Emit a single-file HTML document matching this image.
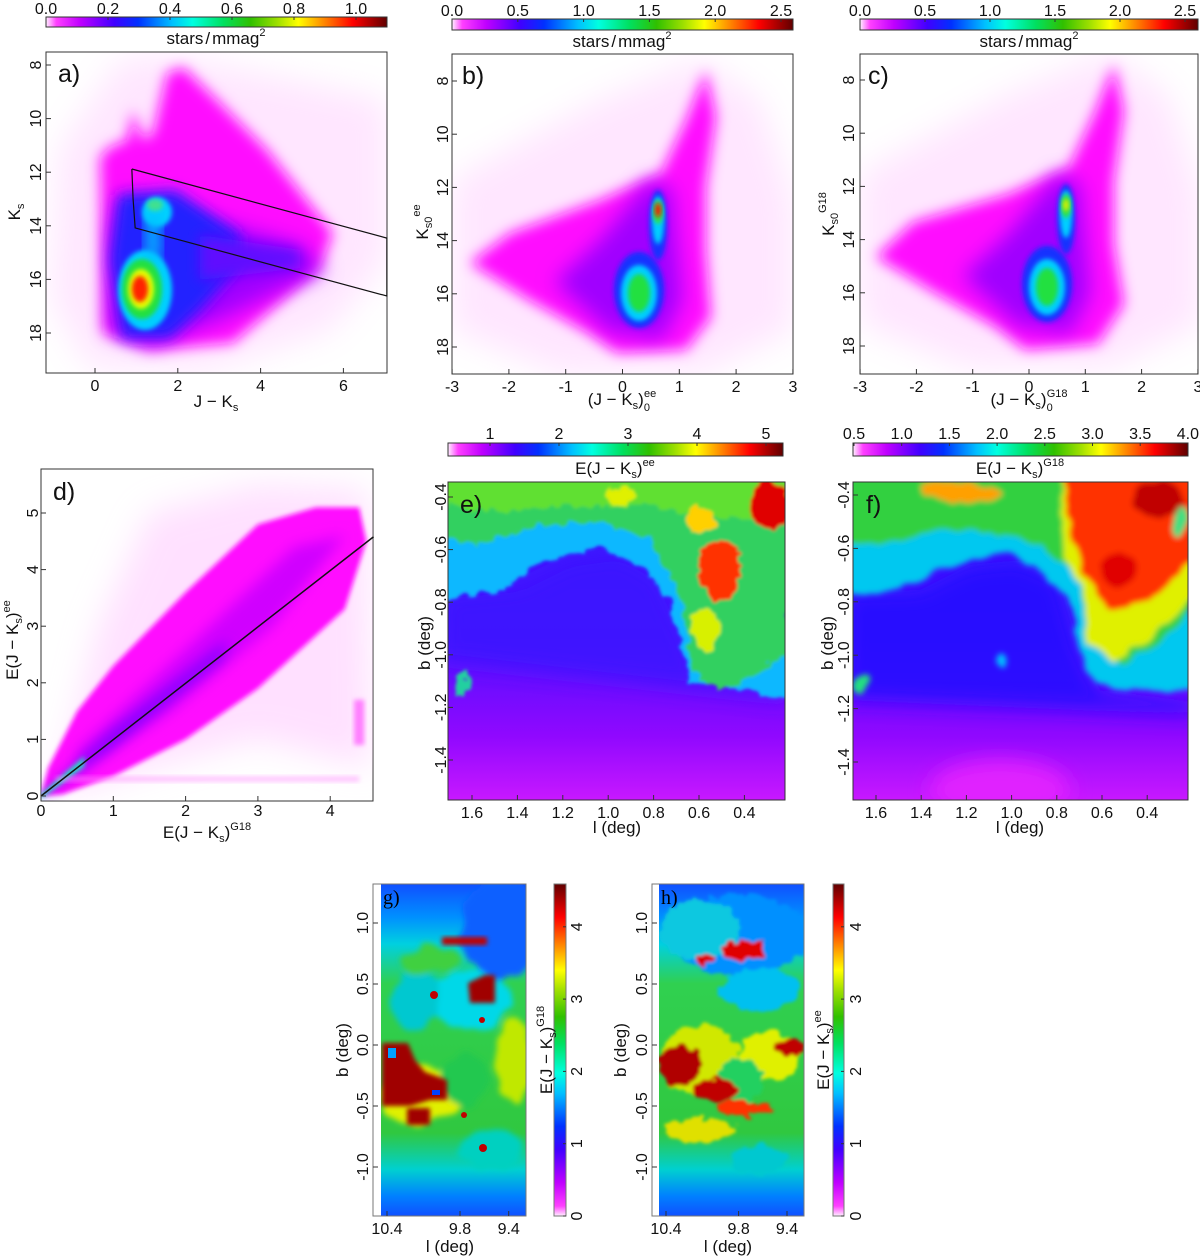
<!DOCTYPE html>
<html><head><meta charset="utf-8"><title>Extinction CMD figure</title>
<style>
html,body{margin:0;padding:0;background:#fff;}
svg{display:block;font-family:"Liberation Sans",sans-serif;}
.tk{font-size:16px;fill:#111;}
.tt{font-size:17px;fill:#111;}
.pl{font-size:25px;fill:#111;}
.sub{font-size:11px;}
</style></head>
<body>
<svg id="fig" width="1200" height="1257" viewBox="0 0 1200 1257" xmlns="http://www.w3.org/2000/svg">
<defs>
<linearGradient id="cmapH" x1="0" y1="0" x2="1" y2="0">
<stop offset="0" stop-color="#fff0ff"/><stop offset="0.03" stop-color="#ff40ff"/><stop offset="0.1" stop-color="#c000ff"/><stop offset="0.2" stop-color="#4000ff"/><stop offset="0.27" stop-color="#0030ff"/><stop offset="0.37" stop-color="#00c0ff"/><stop offset="0.43" stop-color="#00ffe0"/><stop offset="0.52" stop-color="#00e060"/><stop offset="0.6" stop-color="#30c000"/><stop offset="0.68" stop-color="#a0e000"/><stop offset="0.74" stop-color="#ffff00"/><stop offset="0.82" stop-color="#ff8000"/><stop offset="0.9" stop-color="#ff0000"/><stop offset="1" stop-color="#600000"/>
</linearGradient>
<linearGradient id="cmapV" x1="0" y1="1" x2="0" y2="0">
<stop offset="0" stop-color="#fff0ff"/><stop offset="0.03" stop-color="#ff40ff"/><stop offset="0.1" stop-color="#c000ff"/><stop offset="0.2" stop-color="#4000ff"/><stop offset="0.27" stop-color="#0030ff"/><stop offset="0.37" stop-color="#00c0ff"/><stop offset="0.43" stop-color="#00ffe0"/><stop offset="0.52" stop-color="#00e060"/><stop offset="0.6" stop-color="#30c000"/><stop offset="0.68" stop-color="#a0e000"/><stop offset="0.74" stop-color="#ffff00"/><stop offset="0.82" stop-color="#ff8000"/><stop offset="0.9" stop-color="#ff0000"/><stop offset="1" stop-color="#600000"/>
</linearGradient>
<linearGradient id="eBase" x1="0" y1="0" x2="0" y2="1">
<stop offset="0" stop-color="#3018ff"/><stop offset="0.5" stop-color="#5010ff"/><stop offset="0.8" stop-color="#9008ff"/><stop offset="1" stop-color="#c818ff"/>
</linearGradient>
<linearGradient id="gBase" x1="0" y1="0" x2="0" y2="1">
<stop offset="0" stop-color="#1050ff"/><stop offset="0.1" stop-color="#0090ff"/><stop offset="0.18" stop-color="#00d0e0"/><stop offset="0.3" stop-color="#30d050"/><stop offset="0.75" stop-color="#30c840"/><stop offset="0.86" stop-color="#00d0d0"/><stop offset="0.94" stop-color="#0080ff"/><stop offset="1" stop-color="#1050ff"/>
</linearGradient>
<filter id="b2" x="-30%" y="-30%" width="160%" height="160%"><feGaussianBlur stdDeviation="2.5"/></filter>
<filter id="b4" x="-30%" y="-30%" width="160%" height="160%"><feGaussianBlur stdDeviation="7"/></filter>
<filter id="b8" x="-30%" y="-30%" width="160%" height="160%"><feGaussianBlur stdDeviation="10"/></filter>
<filter id="b14" x="-40%" y="-40%" width="180%" height="180%"><feGaussianBlur stdDeviation="16"/></filter>
<filter id="rough" x="-10%" y="-10%" width="120%" height="120%"><feTurbulence type="fractalNoise" baseFrequency="0.09" numOctaves="2" seed="3"/><feDisplacementMap in="SourceGraphic" scale="14" xChannelSelector="R" yChannelSelector="G"/><feGaussianBlur stdDeviation="1.5"/></filter>
<filter id="blocky" x="-10%" y="-10%" width="120%" height="120%"><feTurbulence type="fractalNoise" baseFrequency="0.04" numOctaves="2" seed="7"/><feDisplacementMap in="SourceGraphic" scale="16" xChannelSelector="R" yChannelSelector="G"/><feGaussianBlur stdDeviation="3"/></filter>
<clipPath id="cA"><rect x="46" y="52" width="341" height="321"/></clipPath>
<clipPath id="cB"><rect x="452" y="54" width="341" height="320"/></clipPath>
<clipPath id="cC"><rect x="860" y="54" width="338" height="320"/></clipPath>
<clipPath id="cD"><rect x="41" y="469" width="332" height="332"/></clipPath>
<clipPath id="cE"><rect x="448" y="482" width="337" height="318"/></clipPath>
<clipPath id="cF"><rect x="853" y="482" width="335" height="318"/></clipPath>
<clipPath id="cG"><rect x="381" y="884" width="145" height="332"/></clipPath>
<clipPath id="cH"><rect x="659" y="884" width="145" height="332"/></clipPath>
</defs>

<!-- Panel a density -->
<g clip-path="url(#cA)">
<polygon points="60,150 120,60 170,55 387,100 387,260 330,330 200,372 90,368 52,300" fill="#ffc8ff" opacity="0.45" filter="url(#b14)"/>
<polygon points="133,110 143,140 153,133 167,73 183,67 217,100 267,150 333,233 320,267 233,343 150,350 103,333 100,157 110,147 127,140" fill="#ff10ff" filter="url(#b4)"/>
<polygon points="125,195 300,245 325,270 220,320 150,345 110,330 112,230" fill="#a000ff" filter="url(#b8)"/>
<polygon points="118,195 175,190 240,235 240,265 200,310 170,338 122,338 110,260" fill="#2020ff" filter="url(#b4)"/>
<polygon points="200,235 300,250 300,268 200,280" fill="#6010ff" filter="url(#b4)"/>
<ellipse cx="145" cy="290" rx="27" ry="40" fill="#00d0ff" filter="url(#b2)"/>
<ellipse cx="157" cy="212" rx="15" ry="15" fill="#00d0ff" filter="url(#b2)"/>
<rect x="146" y="215" width="14" height="45" fill="#00c0ff" filter="url(#b4)"/>
<ellipse cx="142" cy="289" rx="20" ry="30" fill="#20e040" filter="url(#b2)"/>
<ellipse cx="155" cy="205" rx="8" ry="6" fill="#40e090" filter="url(#b2)"/>
<ellipse cx="141" cy="289" rx="13" ry="20" fill="#e8ff00" filter="url(#b2)"/>
<ellipse cx="140" cy="289" rx="8" ry="13" fill="#ff2000" filter="url(#b2)"/>
</g>

<!-- Panel b density -->
<g clip-path="url(#cB)">
<polygon points="452,180 600,100 700,60 760,100 793,200 793,330 700,374 560,374 452,330" fill="#ffc8ff" opacity="0.45" filter="url(#b14)"/>
<polygon points="706,70 716,117 706,187 706,250 711,317 686,350 617,353 588,333 529,300 470,263 510,233 600,200 661,173 686,120" fill="#ff10ff" filter="url(#b4)"/>
<polygon points="650,180 672,190 682,300 662,340 610,332 555,282 600,240" fill="#a000ff" filter="url(#b8)"/>
<ellipse cx="639" cy="290" rx="25" ry="38" fill="#1530ff" filter="url(#b2)"/>
<ellipse cx="658" cy="225" rx="9" ry="35" fill="#1530ff" filter="url(#b2)"/>
<ellipse cx="639" cy="293" rx="18" ry="28" fill="#00d0ff" filter="url(#b2)"/>
<ellipse cx="658" cy="220" rx="6" ry="24" fill="#00d0ff" filter="url(#b2)"/>
<ellipse cx="639" cy="293" rx="11" ry="19" fill="#20e040" filter="url(#b2)"/>
<ellipse cx="658" cy="212" rx="5" ry="12" fill="#30e040" filter="url(#b2)"/>
<ellipse cx="658" cy="210" rx="3" ry="7" fill="#ff1000" filter="url(#b2)"/>
</g>

<!-- Panel c density -->
<g clip-path="url(#cC)">
<g transform="translate(408,-6)">
<polygon points="452,180 600,100 700,60 760,100 793,200 793,330 700,374 560,374 452,330" fill="#ffc8ff" opacity="0.45" filter="url(#b14)"/>
<polygon points="706,70 716,117 706,187 706,250 716,310 690,350 617,356 588,333 529,300 468,263 505,228 600,200 661,173 686,120" fill="#ff10ff" filter="url(#b4)"/>
<polygon points="650,180 672,190 682,300 662,340 610,332 555,282 600,240" fill="#a000ff" filter="url(#b8)"/>
<ellipse cx="639" cy="290" rx="25" ry="38" fill="#1530ff" filter="url(#b2)"/>
<ellipse cx="658" cy="225" rx="9" ry="35" fill="#1530ff" filter="url(#b2)"/>
<ellipse cx="639" cy="293" rx="18" ry="28" fill="#00d0ff" filter="url(#b2)"/>
<ellipse cx="658" cy="220" rx="6" ry="24" fill="#00d0ff" filter="url(#b2)"/>
<ellipse cx="639" cy="293" rx="11" ry="19" fill="#20e040" filter="url(#b2)"/>
<ellipse cx="658" cy="212" rx="5" ry="12" fill="#30e040" filter="url(#b2)"/>
<ellipse cx="658" cy="211" rx="3" ry="6" fill="#e0f000" filter="url(#b2)"/>
</g>
</g>

<!-- Panel e map -->
<g clip-path="url(#cE)">
<rect x="448" y="482" width="337" height="318" fill="url(#eBase)"/>
<polygon points="440,592 520,585 570,560 620,553 660,575 690,640 700,670 790,690 790,700 440,660" fill="#3a14ff" opacity="0.8" filter="url(#b8)"/>
<g filter="url(#rough)">
<polygon points="440,470 790,470 790,700 740,690 690,680 670,600 640,565 600,548 540,560 500,592 440,600" fill="#10b8ff"/>
<polygon points="440,470 790,470 790,650 760,672 720,690 692,672 682,600 650,540 600,522 540,525 480,545 440,535" fill="#30d060"/>
<polygon points="440,470 790,470 790,520 700,515 640,505 560,505 500,512 440,505" fill="#60e030"/>
<ellipse cx="720" cy="570" rx="22" ry="30" fill="#ff3000"/>
<ellipse cx="770" cy="505" rx="20" ry="26" fill="#e00000"/>
<ellipse cx="700" cy="520" rx="14" ry="14" fill="#ffd000"/>
<ellipse cx="620" cy="495" rx="16" ry="8" fill="#e0f000"/>
<ellipse cx="705" cy="630" rx="14" ry="22" fill="#d8f000"/>
<ellipse cx="462" cy="685" rx="7" ry="12" fill="#20d0a0"/>
</g>
</g>

<!-- Panel f map -->
<g clip-path="url(#cF)">
<rect x="853" y="482" width="335" height="318" fill="url(#eBase)"/>
<ellipse cx="1000" cy="790" rx="70" ry="30" fill="#e020ff" filter="url(#b8)"/>
<polygon points="845,592 920,590 970,565 1020,560 1060,580 1080,650 1100,690 1195,700 1195,715 845,700" fill="#2010ff" opacity="0.85" filter="url(#b8)"/>
<g filter="url(#blocky)">
<polygon points="845,470 1195,470 1195,690 1140,690 1090,680 1070,600 1040,568 1000,555 940,570 900,590 845,595" fill="#00c8f0"/>
<polygon points="845,470 1195,470 1195,610 1150,650 1120,665 1090,640 1075,575 1040,545 990,530 930,535 880,545 845,540" fill="#30d040"/>
<polygon points="845,470 1195,470 1195,600 1150,640 1110,660 1090,640 1080,590 1065,560 1060,470" fill="#e0f000"/>
<polygon points="1060,470 1195,470 1195,560 1150,600 1110,610 1085,580 1070,520" fill="#ff3000"/>
<ellipse cx="1160" cy="500" rx="25" ry="18" fill="#c00000"/>
<ellipse cx="1120" cy="570" rx="18" ry="16" fill="#e00000"/>
<ellipse cx="960" cy="492" rx="40" ry="10" fill="#ffa000"/>
<ellipse cx="1180" cy="520" rx="8" ry="14" fill="#40e080"/>
<ellipse cx="863" cy="683" rx="7" ry="12" fill="#20e080"/>
<ellipse cx="1002" cy="660" rx="6" ry="7" fill="#00c0ff"/>
</g>
</g>

<!-- Panel g map -->
<rect x="373" y="884" width="153" height="332" fill="#fff"/>
<g clip-path="url(#cG)">
<rect x="381" y="884" width="145" height="332" fill="url(#gBase)"/>
<g filter="url(#blocky)">
<ellipse cx="500" cy="930" rx="40" ry="50" fill="#1060ff"/>
<ellipse cx="470" cy="1000" rx="40" ry="30" fill="#00d8e8"/>
<ellipse cx="415" cy="1000" rx="25" ry="30" fill="#00c8d0"/>
<ellipse cx="430" cy="960" rx="30" ry="14" fill="#40d040"/>
<ellipse cx="420" cy="1095" rx="38" ry="30" fill="#e0f000"/>
<ellipse cx="515" cy="1060" rx="20" ry="40" fill="#c0e800"/>
<ellipse cx="465" cy="1080" rx="25" ry="25" fill="#20c850"/>
<ellipse cx="490" cy="1150" rx="30" ry="20" fill="#00d0c0"/>
</g>
<polygon points="382,1043 408,1043 415,1060 425,1072 447,1080 447,1100 430,1100 410,1106 382,1106" fill="#a00000" filter="url(#b2)"/>
<polygon points="468,983 485,975 495,975 495,1003 470,1003" fill="#a00000" filter="url(#b2)"/>
<rect x="407" y="1108" width="23" height="17" fill="#a00000" filter="url(#b2)"/>
<rect x="442" y="937" width="45" height="8" fill="#c00000" filter="url(#b2)"/>
<rect x="388" y="1048" width="8" height="10" fill="#00a0ff"/>
<rect x="432" y="1090" width="8" height="5" fill="#0040ff"/>
<circle cx="434" cy="995" r="4" fill="#c00000"/>
<circle cx="482" cy="1020" r="3" fill="#c00000"/>
<circle cx="483" cy="1148" r="4" fill="#c00000"/>
<circle cx="464" cy="1115" r="3" fill="#c00000"/>
</g>

<!-- Panel h map -->
<rect x="652" y="884" width="152" height="332" fill="#fff"/>
<g clip-path="url(#cH)">
<rect x="659" y="884" width="145" height="332" fill="url(#gBase)"/>
<g filter="url(#rough)">
<ellipse cx="740" cy="935" rx="70" ry="40" fill="#0090ff"/>
<ellipse cx="700" cy="930" rx="40" ry="30" fill="#10c8e0"/>
<ellipse cx="760" cy="990" rx="40" ry="22" fill="#00c0f0"/>
<ellipse cx="700" cy="1060" rx="40" ry="35" fill="#d0e800"/>
<ellipse cx="770" cy="1055" rx="30" ry="25" fill="#e0f000"/>
<ellipse cx="740" cy="1080" rx="25" ry="20" fill="#20d060"/>
<ellipse cx="745" cy="951" rx="22" ry="10" fill="#e00000"/>
<ellipse cx="706" cy="960" rx="8" ry="6" fill="#e00000"/>
<ellipse cx="680" cy="1065" rx="22" ry="20" fill="#b00000"/>
<ellipse cx="715" cy="1090" rx="22" ry="12" fill="#c00000"/>
<ellipse cx="790" cy="1047" rx="14" ry="10" fill="#c00000"/>
<ellipse cx="745" cy="1108" rx="30" ry="8" fill="#ff3000"/>
<ellipse cx="700" cy="1130" rx="35" ry="12" fill="#e0e000"/>
<ellipse cx="760" cy="1160" rx="30" ry="15" fill="#00c8d0"/>
</g>
</g>

<!-- Colorbars -->
<rect x="46" y="17" width="341" height="10" fill="url(#cmapH)" stroke="#333" stroke-width="1"/>
<rect x="452" y="19" width="341" height="11" fill="url(#cmapH)" stroke="#333" stroke-width="1"/>
<rect x="860" y="19" width="338" height="11" fill="url(#cmapH)" stroke="#333" stroke-width="1"/>
<rect x="448" y="443" width="335" height="13" fill="url(#cmapH)" stroke="#333" stroke-width="1"/>
<rect x="853" y="443" width="335" height="13" fill="url(#cmapH)" stroke="#333" stroke-width="1"/>
<rect x="554" y="884" width="12" height="332" fill="url(#cmapV)" stroke="#777" stroke-width="1"/>
<rect x="833" y="884" width="11" height="332" fill="url(#cmapV)" stroke="#777" stroke-width="1"/>

<!-- Frames -->
<rect x="46" y="52" width="341" height="321" fill="none" stroke="#333"/>
<rect x="452" y="54" width="341" height="320" fill="none" stroke="#333"/>
<rect x="860" y="54" width="338" height="320" fill="none" stroke="#333"/>
<rect x="41" y="469" width="332" height="332" fill="none" stroke="#333"/>
<rect x="448" y="482" width="337" height="318" fill="none" stroke="#333"/>
<rect x="853" y="482" width="335" height="318" fill="none" stroke="#333"/>
<rect x="373" y="884" width="153" height="332" fill="none" stroke="#777"/>
<rect x="652" y="884" width="152" height="332" fill="none" stroke="#777"/>

<!-- Panel letters -->
<text class="pl" x="58" y="82">a)</text>
<text class="pl" x="462" y="84">b)</text>
<text class="pl" x="868" y="84">c)</text>
<text class="pl" x="53" y="500">d)</text>
<text class="pl" x="460" y="513">e)</text>
<text class="pl" x="866" y="513">f)</text>
<text x="383" y="904" style="font-family:'Liberation Serif',serif;font-size:20px">g)</text>
<text x="661" y="904" style="font-family:'Liberation Serif',serif;font-size:20px">h)</text>

<!-- Colorbar titles -->
<text class="tt" x="216" y="44" text-anchor="middle">stars<tspan dx="2">/</tspan><tspan dx="2">mmag</tspan><tspan class="sub" dy="-8">2</tspan></text>
<text class="tt" x="622" y="47" text-anchor="middle">stars<tspan dx="2">/</tspan><tspan dx="2">mmag</tspan><tspan class="sub" dy="-8">2</tspan></text>
<text class="tt" x="1029" y="47" text-anchor="middle">stars<tspan dx="2">/</tspan><tspan dx="2">mmag</tspan><tspan class="sub" dy="-8">2</tspan></text>
<text class="tt" x="615" y="474" text-anchor="middle">E(J − K<tspan class="sub" dy="4">s</tspan><tspan dy="-4">)</tspan><tspan class="sub" dy="-8">ee</tspan></text>
<text class="tt" x="1020" y="474" text-anchor="middle">E(J − K<tspan class="sub" dy="4">s</tspan><tspan dy="-4">)</tspan><tspan class="sub" dy="-8">G18</tspan></text>
<text class="tt" transform="translate(552,1050) rotate(-90)" text-anchor="middle">E(J − K<tspan class="sub" dy="4">s</tspan><tspan dy="-4">)</tspan><tspan class="sub" dy="-8">G18</tspan></text>
<text class="tt" transform="translate(829,1050) rotate(-90)" text-anchor="middle">E(J − K<tspan class="sub" dy="4">s</tspan><tspan dy="-4">)</tspan><tspan class="sub" dy="-8">ee</tspan></text>

<!-- Axis titles -->
<text class="tt" x="216" y="407" text-anchor="middle">J − K<tspan class="sub" dy="4">s</tspan></text>
<text class="tt" transform="translate(20,212) rotate(-90)" text-anchor="middle">K<tspan class="sub" dy="4">s</tspan></text>
<text class="tt" x="622" y="405" text-anchor="middle">(J − K<tspan class="sub" dy="4">s</tspan><tspan dy="-4">)</tspan><tspan class="sub" dy="6">0</tspan><tspan class="sub" dx="-6" dy="-14">ee</tspan></text>
<text class="tt" transform="translate(428,222) rotate(-90)" text-anchor="middle">K<tspan class="sub" dy="4">s0</tspan><tspan class="sub" dy="-12">ee</tspan></text>
<text class="tt" x="1029" y="405" text-anchor="middle">(J − K<tspan class="sub" dy="4">s</tspan><tspan dy="-4">)</tspan><tspan class="sub" dy="6">0</tspan><tspan class="sub" dx="-6" dy="-14">G18</tspan></text>
<text class="tt" transform="translate(834,214) rotate(-90)" text-anchor="middle">K<tspan class="sub" dy="4">s0</tspan><tspan class="sub" dy="-12">G18</tspan></text>
<text class="tt" x="207" y="838" text-anchor="middle">E(J − K<tspan class="sub" dy="4">s</tspan><tspan dy="-4">)</tspan><tspan class="sub" dy="-8">G18</tspan></text>
<text class="tt" transform="translate(18,640) rotate(-90)" text-anchor="middle">E(J − K<tspan class="sub" dy="4">s</tspan><tspan dy="-4">)</tspan><tspan class="sub" dy="-8">ee</tspan></text>
<text class="tt" x="617" y="833" text-anchor="middle">l (deg)</text>
<text class="tt" transform="translate(430,643) rotate(-90)" text-anchor="middle">b (deg)</text>
<text class="tt" x="1020" y="833" text-anchor="middle">l (deg)</text>
<text class="tt" transform="translate(833,643) rotate(-90)" text-anchor="middle">b (deg)</text>
<text class="tt" x="450" y="1252" text-anchor="middle">l (deg)</text>
<text class="tt" transform="translate(348,1050) rotate(-90)" text-anchor="middle">b (deg)</text>
<text class="tt" x="728" y="1252" text-anchor="middle">l (deg)</text>
<text class="tt" transform="translate(626,1050) rotate(-90)" text-anchor="middle">b (deg)</text>
</svg>

<script>
// ---- data arrays ----
const aXTicks = [0, 2, 4, 6];
const aYTicks = [8, 10, 12, 14, 16, 18];
const bXTicks = [-3, -2, -1, 0, 1, 2, 3];
const bYTicks = [8, 10, 12, 14, 16, 18];
const dXTicks = [0, 1, 2, 3, 4];
const dYTicks = [0, 1, 2, 3, 4, 5];
const lTicks = [1.6, 1.4, 1.2, 1.0, 0.8, 0.6, 0.4];
const bLatTicks = [-0.4, -0.6, -0.8, -1.0, -1.2, -1.4];
const ghXTicks = [10.4, 9.8, 9.4];
const ghYTicks = [1.0, 0.5, 0.0, -0.5, -1.0];
const cbATicks = [0.0, 0.2, 0.4, 0.6, 0.8, 1.0];
const cbBCTicks = [0.0, 0.5, 1.0, 1.5, 2.0, 2.5];
const cbETicks = [1, 2, 3, 4, 5];
const cbFTicks = [0.5, 1.0, 1.5, 2.0, 2.5, 3.0, 3.5, 4.0];
const cbGHTicks = [0, 1, 2, 3, 4];
// selection box in panel a (J-Ks, Ks)
const boxColor = [0.89, 0.92, 0.97, 7.05, 7.05];
const boxMag = [11.88, 13.0, 14.08, 16.62, 14.46];
// line in panel d
const lineDX = [0, 4.6];
const lineDY = [0, 4.58];
// panel d density outlines (data coordinates)
const dOuterX = [0.3, 0.8, 1.5, 3, 4.5, 4.55, 3, 1.5, 0.3];
const dOuterY = [0.5, 3.0, 5.0, 5.5, 5.4, 0.5, 1.0, 0.5, 0.0];
const dWedgeX = [0, 0.1, 0.5, 1, 2, 3, 3.8, 4.4, 4.5, 4.2, 3, 2, 1, 0.3];
const dWedgeY = [0, 0.5, 1.5, 2.3, 3.6, 4.8, 5.1, 5.1, 4.5, 3.3, 1.9, 1.0, 0.35, 0.03];

const NS = 'http://www.w3.org/2000/svg';
const svg = document.getElementById('fig');
function el(tag, attrs) {
  const e = document.createElementNS(NS, tag);
  for (const k in attrs) e.setAttribute(k, attrs[k]);
  svg.appendChild(e);
  return e;
}
function fmt(v, d) { return v < 0 ? '-' + Math.abs(v).toFixed(d) : v.toFixed(d); }

const sA = { x: v => 95 + 41.4 * v, y: v => 65 + 26.8 * (v - 8) };
const sB = { x: v => 622.5 + 56.8 * v, y: v => 81 + 26.6 * (v - 8) };
const sC = { x: v => 1029 + 56.3 * v, y: v => 80 + 26.6 * (v - 8) };
const sD = { x: v => 41 + 72.3 * v, y: v => 796 - 56.6 * v };
const sE = { x: v => 472 + (1.6 - v) * 227, y: v => 497 + (-0.4 - v) * 263 };
const sF = { x: v => 876 + (1.6 - v) * 226, y: v => 495 + (-0.4 - v) * 267 };
const sG = { x: v => 387 + (10.4 - v) * 121.7, y: v => 923 + (1.0 - v) * 122 };
const sH = { x: v => 666 + (10.4 - v) * 121, y: v => 923 + (1.0 - v) * 122 };

function xTicks(vals, sx, yTop, yBot, lblY, dec, name) {
  vals.forEach(v => {
    const x = sx(v);
    const t = el('line', { x1: x, x2: x, y1: yBot, y2: yBot - 5, stroke: '#333' });
    
    
    const l = el('text', { x: x, y: lblY, 'text-anchor': 'middle', class: 'tk' });
    l.textContent = fmt(v, dec);
    
    
  });
}
function yTicks(vals, sy, xLeft, lblX, dec, name) {
  vals.forEach(v => {
    const y = sy(v);
    const t = el('line', { x1: xLeft, x2: xLeft + 5, y1: y, y2: y, stroke: '#333' });
    
    
    const l = el('text', { transform: 'translate(' + lblX + ',' + y + ') rotate(-90)', 'text-anchor': 'middle', class: 'tk' });
    l.textContent = fmt(v, dec);
    
    
  });
}
function cbTicksH(vals, x0, per, v0, yTop, lblY, dec, name) {
  vals.forEach(v => {
    const x = x0 + (v - v0) * per;
    const t = el('line', { x1: x, x2: x, y1: yTop, y2: yTop + 3, stroke: '#333' });
    
    
    const l = el('text', { x: x, y: lblY, 'text-anchor': 'middle', class: 'tk' });
    l.textContent = fmt(v, dec);
    
    
  });
}
function cbTicksV(vals, y0, per, xRight, lblX, name) {
  vals.forEach(v => {
    const y = y0 - v * per;
    const t = el('line', { x1: xRight, x2: xRight - 3, y1: y, y2: y, stroke: '#333' });
    
    
    const l = el('text', { transform: 'translate(' + lblX + ',' + y + ') rotate(-90)', 'text-anchor': 'middle', class: 'tk' });
    l.textContent = String(v);
    
    
  });
}

// panel a
xTicks(aXTicks, sA.x, 52, 373, 391, 0, 'panel-a');
yTicks(aYTicks, sA.y, 46, 41, 0, 'panel-a');
const boxPts = boxColor.map((c, i) => sA.x(c) + ',' + sA.y(boxMag[i])).join(' ');
const box = el('polyline', { points: boxPts + ' ' + sA.x(boxColor[0]) + ',' + sA.y(boxMag[0]), fill: 'none', stroke: '#111', 'stroke-width': 1.2 });



// panel b, c
xTicks(bXTicks, sB.x, 54, 374, 392, 0, 'panel-b');
yTicks(bYTicks, sB.y, 452, 448, 0, 'panel-b');
xTicks(bXTicks, sC.x, 54, 374, 392, 0, 'panel-c');
yTicks(bYTicks, sC.y, 860, 854, 0, 'panel-c');

// panel d density
const dClip = el('g', { 'clip-path': 'url(#cD)' });


function dPoly(xs, ys, attrs) {
  const p = document.createElementNS(NS, 'polygon');
  p.setAttribute('points', xs.map((x, i) => sD.x(x) + ',' + sD.y(ys[i])).join(' '));
  for (const k in attrs) p.setAttribute(k, attrs[k]);
  dClip.appendChild(p);
  return p;
}
const dOut = dPoly(dOuterX, dOuterY, { fill: '#ffc8ff', opacity: 0.55, filter: 'url(#b14)' });


const dW = dPoly(dWedgeX, dWedgeY, { fill: '#ff10ff', filter: 'url(#b2)' });


const dMid = dPoly([0.5, 2.0, 3.5, 4.2, 3.2, 1.8, 0.5], [0.8, 2.6, 4.4, 4.6, 3.0, 1.5, 0.4], { fill: '#d000ff', filter: 'url(#b4)' });


const dCore = dPoly([0, 1.0, 2.6, 2.5, 0.9, 0.05], [0, 1.15, 2.75, 2.45, 0.8, 0], { fill: '#7000ff', filter: 'url(#b4)' });


const dCore2 = dPoly([0, 0.6, 0.6, 0], [0.04, 0.7, 0.52, -0.05], { fill: '#20e0c0', filter: 'url(#b2)' });


const dBlob = dPoly([4.33, 4.47, 4.47, 4.33], [0.9, 0.9, 1.7, 1.7], { fill: '#ff80ff', filter: 'url(#b2)' });


const dBand = dPoly([0.2, 4.4, 4.4, 0.2], [0.35, 0.35, 0.25, 0.25], { fill: '#ff90ff', opacity: 0.5, filter: 'url(#b2)' });


const dLine = el('line', { x1: sD.x(lineDX[0]), y1: sD.y(lineDY[0]), x2: sD.x(lineDX[1]), y2: sD.y(lineDY[1]), stroke: '#111', 'stroke-width': 1.5 });


xTicks(dXTicks, sD.x, 469, 801, 816, 0, 'panel-d');
yTicks(dYTicks, sD.y, 41, 38, 0, 'panel-d');

// panel e, f
xTicks(lTicks, sE.x, 482, 800, 818, 1, 'panel-e');
yTicks(bLatTicks, sE.y, 448, 446, 1, 'panel-e');
xTicks(lTicks, sF.x, 482, 800, 818, 1, 'panel-f');
yTicks(bLatTicks, sF.y, 853, 849, 1, 'panel-f');

// panel g, h
xTicks(ghXTicks, sG.x, 884, 1216, 1234, 1, 'panel-g');
yTicks(ghYTicks, sG.y, 373, 368, 1, 'panel-g');
xTicks(ghXTicks, sH.x, 884, 1216, 1234, 1, 'panel-h');
yTicks(ghYTicks, sH.y, 652, 647, 1, 'panel-h');

// colorbar ticks
cbTicksH(cbATicks, 46, 310, 0, 17, 14, 1, 'colorbar-a');
cbTicksH(cbBCTicks, 452, 131.6, 0, 19, 16, 1, 'colorbar-b');
cbTicksH(cbBCTicks, 860, 130, 0, 19, 16, 1, 'colorbar-c');
cbTicksH(cbETicks, 490, 69, 1, 443, 439, 0, 'colorbar-e');
cbTicksH(cbFTicks, 854, 95.4, 0.5, 443, 439, 1, 'colorbar-f');
cbTicksV(cbGHTicks, 1216, 72.3, 566, 582, 'colorbar-g');
cbTicksV(cbGHTicks, 1216, 72.3, 844, 861, 'colorbar-h');
</script>
</body></html>
